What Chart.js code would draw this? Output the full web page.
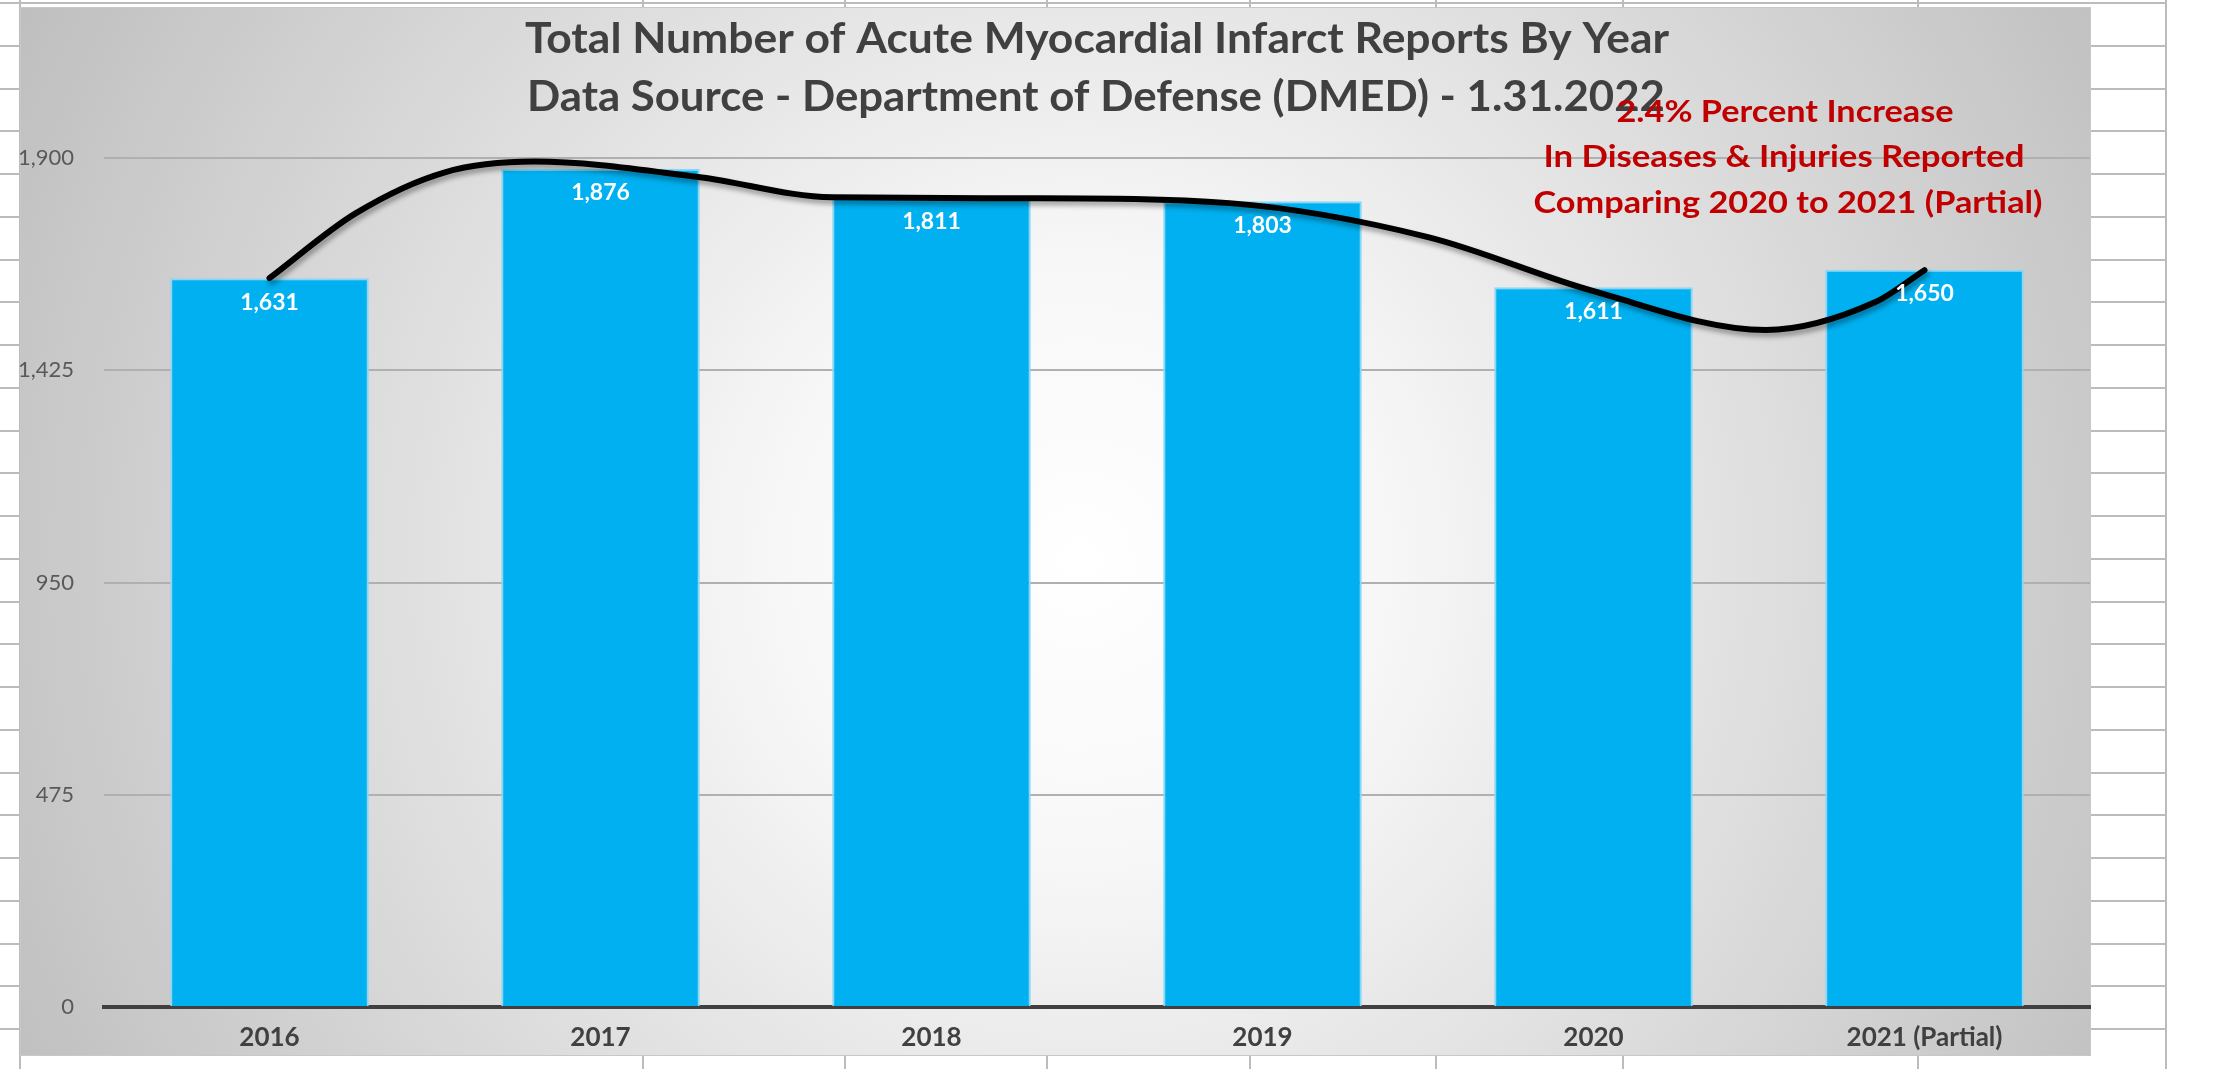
<!DOCTYPE html>
<html>
<head>
<meta charset="utf-8">
<title>Acute Myocardial Infarct Reports By Year</title>
<script src="https://cdn.jsdelivr.net/npm/chart.js@4.4.1/dist/chart.umd.min.js"></script>
<style>
    html, body { margin: 0; padding: 0; background: #fff; overflow: hidden; }
    #wrap { width: 2215px; height: 1069px; }
</style>
</head>
<body>
<div id="wrap"><canvas id="chart" width="2215" height="1069"></canvas></div>
<script>
// Data
const years = ['2016', '2017', '2018', '2019', '2020', '2021 (Partial)'];
const reports = [1631, 1876, 1811, 1803, 1611, 1650];
const yTicks = [0, 475, 950, 1425, 1900];

// hand drawn trend curve, position in category units and value
const trendPos = [0, 0.26, 0.53, 0.8, 1.3, 1.7, 2.3, 2.9, 3.5, 4.0, 4.52, 4.85, 5.0];
const trendVal = [1631, 1776, 1868, 1892, 1857, 1812, 1810, 1799, 1723, 1602, 1515, 1577, 1649];

const titleLines = [
    'Total Number of Acute Myocardial Infarct Reports By Year',
    'Data Source - Department of Defense (DMED) - 1.31.2022'
];
const noteLines = [
    '2.4% Percent Increase',
    'In Diseases & Injuries Reported',
    'Comparing 2020 to 2021 (Partial)'
];

// draw text squeezed/stretched to a given width
function drawFit(ctx, text, cx, baseline, width, font, color) {
    ctx.save();
    ctx.font = font;
    ctx.fillStyle = color;
    ctx.textAlign = 'center';
    ctx.textBaseline = 'alphabetic';
    const w = ctx.measureText(text).width;
    ctx.translate(cx, baseline);
    ctx.scale(width / w, 1);
    ctx.fillText(text, 0, 0);
    ctx.restore();
}

// spreadsheet cells behind the chart and the gradient chart box
const sheetPlugin = {
    id: 'sheet',
    beforeDraw(chart) {
        const c = chart.ctx;
        c.save();
        c.fillStyle = '#ffffff';
        c.fillRect(0, 0, chart.width, chart.height);
        c.strokeStyle = '#bcbcbc';
        c.lineWidth = 2;
        for (let y = 3; y < chart.height; y += 42.75) {
            c.beginPath();
            c.moveTo(0, Math.round(y));
            c.lineTo(2166, Math.round(y));
            c.stroke();
        }
        [20, 643, 845, 1047, 1250, 1436, 1623, 1918, 2166].forEach(x => {
            c.beginPath();
            c.moveTo(x, 0);
            c.lineTo(x, chart.height);
            c.stroke();
        });

        const g = c.createRadialGradient(1080, 560, 0, 1080, 560, 1220);
        g.addColorStop(0, '#ffffff');
        g.addColorStop(0.25, '#f7f7f7');
        g.addColorStop(1, '#bdbdbd');
        c.fillStyle = g;
        c.fillRect(20, 7, 2071, 1049);
        c.strokeStyle = '#c8c8c8';
        c.lineWidth = 1;
        c.strokeRect(20.5, 7.5, 2070, 1048);
        c.restore();
    }
};

// soft shadow under the curve
const shadowPlugin = {
    id: 'lineShadow',
    beforeDatasetDraw(chart, args) {
        if (args.meta.type === 'line') {
            const c = chart.ctx;
            c.save();
            c.shadowColor = 'rgba(0, 0, 0, 0.35)';
            c.shadowBlur = 5;
            c.shadowOffsetX = 2;
            c.shadowOffsetY = 4;
        }
    },
    afterDatasetDraw(chart, args) {
        if (args.meta.type === 'line') {
            chart.ctx.restore();
        }
    }
};

// value labels, title and red note
const textPlugin = {
    id: 'texts',
    afterDatasetsDraw(chart) {
        const c = chart.ctx;
        const meta = chart.getDatasetMeta(0);
        c.save();
        c.font = 'bold 23px Lato';
        c.fillStyle = '#ffffff';
        c.textAlign = 'center';
        c.textBaseline = 'middle';
        meta.data.forEach((bar, i) => {
            c.fillText(reports[i].toLocaleString('en-US'), bar.x, bar.y + 24);
        });
        c.restore();

        drawFit(c, titleLines[0], 1097, 53, 1144, 'bold 42px Lato', '#404040');
        drawFit(c, titleLines[1], 1096, 111, 1138, 'bold 42px Lato', '#404040');

        drawFit(c, noteLines[0], 1785, 122, 337, 'bold 30px Lato', '#C00000');
        drawFit(c, noteLines[1], 1784, 167, 481, 'bold 30px Lato', '#C00000');
        drawFit(c, noteLines[2], 1788, 213, 509, 'bold 30px Lato', '#C00000');
    }
};

const ctx = document.getElementById('chart');
new Chart(ctx, {
    type: 'bar',
    data: {
        labels: years,
        datasets: [
            {
                type: 'bar',
                data: reports,
                backgroundColor: '#00B0F0',
                borderColor: '#8ad6f5',
                borderWidth: 2,
                barPercentage: 0.6,
                categoryPercentage: 1,
                grouped: false,
                xAxisID: 'x',
                yAxisID: 'y',
                order: 2
            },
            {
                type: 'line',
                data: trendPos.map((p, i) => ({ x: p, y: trendVal[i] })),
                xAxisID: 'xLine',
                yAxisID: 'y',
                borderColor: '#000000',
                borderWidth: 6,
                borderCapStyle: 'round',
                pointRadius: 0,
                cubicInterpolationMode: 'monotone',
                fill: false,
                clip: false,
                order: 1
            }
        ]
    },
    options: {
        responsive: false,
        animation: false,
        events: [],
        layout: {
            padding: { left: 20, top: 158, right: 125, bottom: 13 }
        },
        plugins: {
            legend: { display: false },
            tooltip: { enabled: false },
            title: { display: false }
        },
        scales: {
            x: {
                type: 'category',
                offset: true,
                grid: { display: false, drawTicks: false },
                border: { display: true, color: '#404040', width: 4 },
                ticks: {
                    color: '#404040',
                    font: { family: 'Lato', size: 26, weight: 'bold' },
                    padding: 15,
                    maxRotation: 0,
                    autoSkip: false
                },
                afterFit: scale => { scale.height = 49; }
            },
            xLine: {
                type: 'linear',
                display: false,
                offset: false,
                grid: { offset: false },
                min: -0.5,
                max: 5.5
            },
            y: {
                min: 0,
                max: 1900,
                afterBuildTicks: scale => {
                    scale.ticks = yTicks.map(v => ({ value: v }));
                },
                grid: { color: '#b0b0b0', lineWidth: 2, drawTicks: false },
                border: { display: false },
                ticks: {
                    color: '#595959',
                    font: { family: 'Lato', size: 22, weight: 'normal' },
                    padding: 30,
                    callback: v => v.toLocaleString('en-US')
                },
                afterFit: scale => { scale.width = 84; }
            }
        }
    },
    plugins: [sheetPlugin, shadowPlugin, textPlugin]
});
</script>
</body>
</html>
